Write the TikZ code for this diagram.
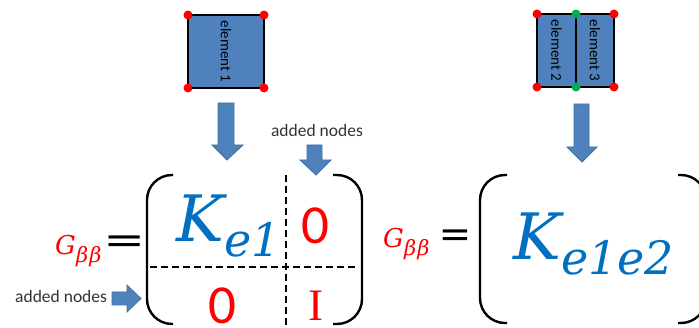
\documentclass[tikz,border=0pt]{standalone}
\usepackage{fontspec}
\usepackage{graphicx}
\setmainfont{Carlito}
\newfontfamily\djserif{DejaVu Serif}
\newfontfamily\djsans{DejaVu Sans}
\newfontfamily\lserif{Liberation Serif}
\definecolor{boxblue}{HTML}{4F81BD}
\definecolor{arrowedge}{HTML}{41719C}
\definecolor{kblue}{HTML}{0070C0}
\definecolor{dotred}{HTML}{FF0000}
\definecolor{dotgreen}{HTML}{00B050}
\newcommand{\fs}[1]{\fontsize{#1}{#1}\selectfont}
\tikzset{
  elem/.style={draw=black, line width=1.6pt, fill=boxblue},
  etext/.style={rotate=-90, font=\fs{15}, inner sep=0pt},
  rdot/.style={fill=dotred},
  gdot/.style={fill=dotgreen},
  blockarrow/.style={fill=boxblue, draw=arrowedge, line width=0.8pt},
  paren/.style={line width=2.4pt, rounded corners=25pt},
  divider/.style={line width=2pt, dash pattern=on 7pt off 4pt},
  addtext/.style={font=\fs{17.5}, text=black!80, inner sep=0pt},
  gtext/.style={text=dotred, inner sep=0pt},
  eqtext/.style={inner sep=0pt},
  ktext/.style={text=kblue, inner sep=0pt},
  redtext/.style={text=dotred, inner sep=0pt}
}
\begin{document}
\begin{tikzpicture}[x=1pt, y=-1pt]
\clip (0,0) rectangle (699,328);
\fill[white] (0,0) rectangle (699,328);

% element 1
\draw[elem] (188,15) rectangle (264,88);
\node[etext] (e1) at (226,51.5) {element 1};
\foreach \p in {(188,15),(264,15),(188,88),(264,88)} \fill[rdot] \p circle (4.5pt);

% elements 2 and 3
\draw[elem] (537,14) rectangle (576,87);
\draw[elem] (576,14) rectangle (614,87);
\node[etext] (e2) at (556.5,50.5) {element 2};
\node[etext] (e3) at (595,50.5) {element 3};
\foreach \p in {(537,14),(614,14),(537,87),(614,87)} \fill[rdot] \p circle (4.5pt);
\foreach \p in {(576,14),(576,87)} \fill[gdot] \p circle (4.5pt);

% block arrows
\draw[blockarrow] (218,103) -- (234,103) -- (234,145) -- (243,145) -- (227,160) -- (212,145) -- (218,145) -- cycle;
\draw[blockarrow] (574,104) -- (589,104) -- (589,147) -- (597,147) -- (582,162) -- (567,147) -- (574,147) -- cycle;
\draw[blockarrow] (307,145) -- (322,145) -- (322,160) -- (331,160) -- (316,175) -- (300,160) -- (307,160) -- cycle;
\draw[blockarrow] (112,292) -- (127,292) -- (127,285) -- (141,298.5) -- (127,312) -- (127,305) -- (112,305) -- cycle;

% added nodes labels
\node[addtext, anchor=base] (an1) at (317,137) {added nodes};
\node[addtext, anchor=base west] (an2) at (15,303) {added nodes};

% first equation
\node[gtext, anchor=base west] (g1) at (55,255) {\djserif\itshape\fs{26}G};
\node[gtext, anchor=base west] (b1) at (76,263) {\djserif\itshape\fs{21}β\kern1ptβ};
\node[eqtext, font=\fs{48}] (eq1) at (125,246.5) {\scalebox{1.6}[1]{=}};

\draw[paren] (173,175) -- (147,175) -- (147,324) -- (173,324);
\draw[paren] (333,175) -- (362,175) -- (362,324) -- (333,324);
\draw[divider] (286,175) -- (286,330);
\draw[divider] (150,267) -- (358,267);

\node[ktext, anchor=base west] (k1) at (176,242) {\djserif\itshape\fs{64}K\raisebox{-15pt}{\fs{46}e1}};
\node[redtext, anchor=center, font=\fs{55}] (z1) at (315.5,226) {0};
\node[redtext, anchor=center, font=\fs{55}] (z2) at (222,306) {0};
\node[redtext, anchor=base, font=\lserif\fs{45}] (i1) at (316,321) {I};

% second equation
\node[gtext, anchor=base west] (g2) at (383,248) {\djserif\itshape\fs{26}G};
\node[gtext, anchor=base west] (b2) at (404,256) {\djserif\itshape\fs{21}β\kern1ptβ};
\node[eqtext, font=\fs{48}] (eq2) at (455.5,240) {\scalebox{1.25}[1]{=}};

\draw[paren] (507,175) -- (480,175) -- (480,323) -- (507,323);
\draw[paren] (678,175) -- (706,175) -- (706,323) -- (678,323);

\node[ktext, anchor=base west] (k2) at (513,260) {\djserif\itshape\fs{64}K\raisebox{-15pt}{\fs{46}e1e2}};
\end{tikzpicture}
\end{document}
